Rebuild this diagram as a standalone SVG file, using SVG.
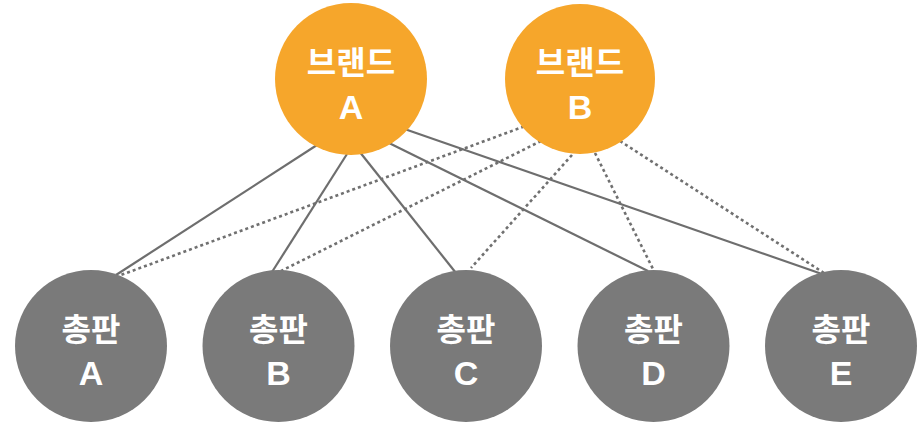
<svg xmlns="http://www.w3.org/2000/svg" width="917" height="423" viewBox="0 0 917 423">
<style>
.brand{fill:#F6A62B}
.dist{fill:#7A7A7A}
.ko{font-family:"Noto Sans CJK KR","Noto Sans",sans-serif;font-weight:700;font-size:32px;fill:#fff;text-anchor:middle}
.en{font-family:"Liberation Sans",Arial,sans-serif;font-weight:700;font-size:34px;fill:#fff;text-anchor:middle}
.solid{stroke:#6E6E6E;stroke-width:2.2;fill:none}
.dot{stroke:#707070;stroke-width:2.6;fill:none;stroke-dasharray:3 3}
</style>
<rect width="917" height="423" fill="#fff"/>
<g id="connectors">
<line class="solid" x1="317" y1="145" x2="116" y2="275"/>
<line class="solid" x1="347" y1="154" x2="272" y2="272"/>
<line class="solid" x1="359" y1="151" x2="456" y2="273"/>
<line class="solid" x1="389" y1="143" x2="648" y2="271"/>
<line class="solid" x1="406" y1="129.5" x2="822" y2="274"/>
<line class="dot" x1="524" y1="126.5" x2="121" y2="275"/>
<line class="dot" x1="541" y1="141" x2="281" y2="271"/>
<line class="dot" x1="572" y1="155" x2="471" y2="268"/>
<line class="dot" x1="595" y1="153" x2="654" y2="271"/>
<line class="dot" x1="620" y1="141" x2="824" y2="273"/>
</g>
<g id="brandA">
<circle class="brand" cx="351" cy="79" r="76"/>
<text class="ko" x="351" y="74">브랜드</text>
<text class="en" x="351" y="119">A</text>
</g>
<g id="brandB">
<circle class="brand" cx="580" cy="79" r="75"/>
<text class="ko" x="580" y="74">브랜드</text>
<text class="en" x="580" y="119">B</text>
</g>
<g id="distA">
<circle class="dist" cx="91" cy="346" r="76"/>
<text class="ko" x="91" y="341">총판</text>
<text class="en" x="91" y="385">A</text>
</g>
<g id="distB">
<circle class="dist" cx="278.5" cy="346" r="76"/>
<text class="ko" x="278.5" y="341">총판</text>
<text class="en" x="278.5" y="385">B</text>
</g>
<g id="distC">
<circle class="dist" cx="466" cy="346" r="76"/>
<text class="ko" x="466" y="341">총판</text>
<text class="en" x="466" y="385">C</text>
</g>
<g id="distD">
<circle class="dist" cx="653.5" cy="346" r="76"/>
<text class="ko" x="653.5" y="341">총판</text>
<text class="en" x="653.5" y="385">D</text>
</g>
<g id="distE">
<circle class="dist" cx="841" cy="346" r="76"/>
<text class="ko" x="841" y="341">총판</text>
<text class="en" x="841" y="385">E</text>
</g>
</svg>
